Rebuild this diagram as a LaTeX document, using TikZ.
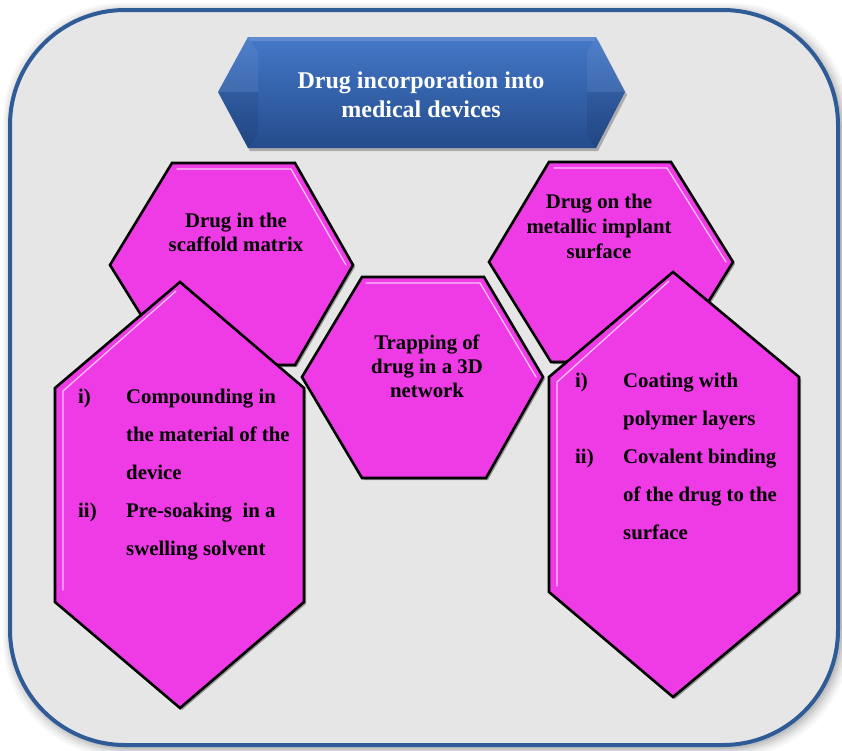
\documentclass[tikz,border=0pt]{standalone}
\usepackage{fontspec}
\setmainfont{Liberation Serif}
\usetikzlibrary{shadows}
\definecolor{hexmag}{HTML}{EF3BE6}
\definecolor{hexlight}{HTML}{FFC2FA}
\definecolor{boxfill}{HTML}{E6E6E6}
\definecolor{boxblue}{HTML}{2F5C97}
\definecolor{bantop}{HTML}{4478C8}
\definecolor{banbot}{HTML}{244C8C}
\begin{document}
\begin{tikzpicture}[x=1pt,y=-1pt,
  hexbox/.style={fill=hexmag, draw=black, line width=2.6pt, line join=miter,
    drop shadow={shadow xshift=2pt, shadow yshift=-2pt, opacity=0.35, fill=black}},
  hilite/.style={draw=hexlight, line width=1.3pt, line cap=round, line join=round},
  txt/.style={font=\bfseries\fontsize{20.8}{25}\selectfont, inner sep=0pt, anchor=base},
  lbl/.style={txt, anchor=base west},
  ttl/.style={font=\bfseries\fontsize{24}{29}\selectfont, text=white, inner sep=0pt, anchor=base},
  banner/.style={top color=bantop, bottom color=banbot,
    drop shadow={shadow xshift=2pt, shadow yshift=-3pt, opacity=0.25, fill=black}}]
\useasboundingbox (0,0) rectangle (842,750);
\fill[white] (0,0) rectangle (842,750);
% outer box shadow
\foreach \k/\o in {9/0.03,7/0.04,5/0.05,3/0.07,1/0.08}{
  \fill[black, opacity=\o, rounded corners=118pt] (12-\k,12-\k) rectangle (841+\k,748+\k);
}
\draw[draw=boxblue, line width=4pt, fill=boxfill, rounded corners=115pt] (10,10) rectangle (838,745);
% banner
\path[banner] (218,92) -- (248,37) -- (596,37) -- (625,92) -- (596,148) -- (248,148) -- cycle;
\fill[white, opacity=0.06] (218,92) -- (248,37) -- (258,52) -- (258,92) -- cycle;
\fill[black, opacity=0.07] (218,92) -- (258,92) -- (258,134) -- (248,148) -- cycle;
\fill[white, opacity=0.06] (625,92) -- (596,37) -- (587,52) -- (587,92) -- cycle;
\fill[black, opacity=0.07] (625,92) -- (587,92) -- (587,134) -- (596,148) -- cycle;
\fill[white, opacity=0.15] (248,37) -- (596,37) -- (594,41) -- (250,41) -- cycle;
% hexagon A
\path[hexbox] (110,265) -- (172,163) -- (295,163) -- (353,265) -- (295,365) -- (172,365) -- cycle;
\draw[hilite] (177,169) -- (291,169) -- (346,265);
% hexagon D
\path[hexbox] (489,262) -- (549,162) -- (671,162) -- (733,262) -- (671,362) -- (551,362) -- cycle;
\draw[hilite] (554,168) -- (667,168) -- (726,262);
% hexagon C
\path[hexbox] (302,377) -- (362,277) -- (484,277) -- (543,377) -- (486,478) -- (362,478) -- cycle;
\draw[hilite] (366,283) -- (480,283) -- (536,377);
% hexagon B (tall left)
\path[hexbox] (180,282) -- (304,388) -- (304,602) -- (180,708) -- (55,602) -- (55,388) -- cycle;
\draw[hilite] (176,291) -- (63,391) -- (63,590);
% hexagon E (tall right)
\path[hexbox] (673,272) -- (799,377) -- (799,592) -- (673,697) -- (549,592) -- (549,377) -- cycle;
\draw[hilite] (669,281) -- (557,382) -- (557,586);
% title
\node[ttl] (t1) at (421,88) {Drug incorporation into};
\node[ttl] (t2) at (421,117) {medical devices};
% hexagon A text
\node[txt] (a1) at (236,227) {Drug in the};
\node[txt] (a2) at (236,251) {scaffold matrix};
% hexagon D text
\node[txt] (d1) at (599,208) {Drug on the};
\node[txt] (d2) at (599,233) {metallic implant};
\node[txt] (d3) at (599,258) {surface};
% hexagon C text
\node[txt] (c1) at (427,349) {Trapping of};
\node[txt] (c2) at (427,373) {drug in a 3D};
\node[txt] (c3) at (427,397) {network};
% hexagon B text
\node[lbl] (b0) at (78,403) {i)};
\node[lbl] (b1) at (126,403) {Compounding in};
\node[lbl] (b2) at (126,441) {the material of the};
\node[lbl] (b3) at (126,479) {device};
\node[lbl] (b4) at (78,517) {ii)};
\node[lbl] (b5) at (126,517) {Pre-soaking\ \ in a};
\node[lbl] (b6) at (126,555) {swelling solvent};
% hexagon E text
\node[lbl] (e0) at (575,387) {i)};
\node[lbl] (e1) at (623,387) {Coating with};
\node[lbl] (e2) at (623,425) {polymer layers};
\node[lbl] (e3) at (575,463) {ii)};
\node[lbl] (e4) at (623,463) {Covalent\ binding};
\node[lbl] (e5) at (623,501) {of the drug to the};
\node[lbl] (e6) at (623,539) {surface};
\end{tikzpicture}
\end{document}
